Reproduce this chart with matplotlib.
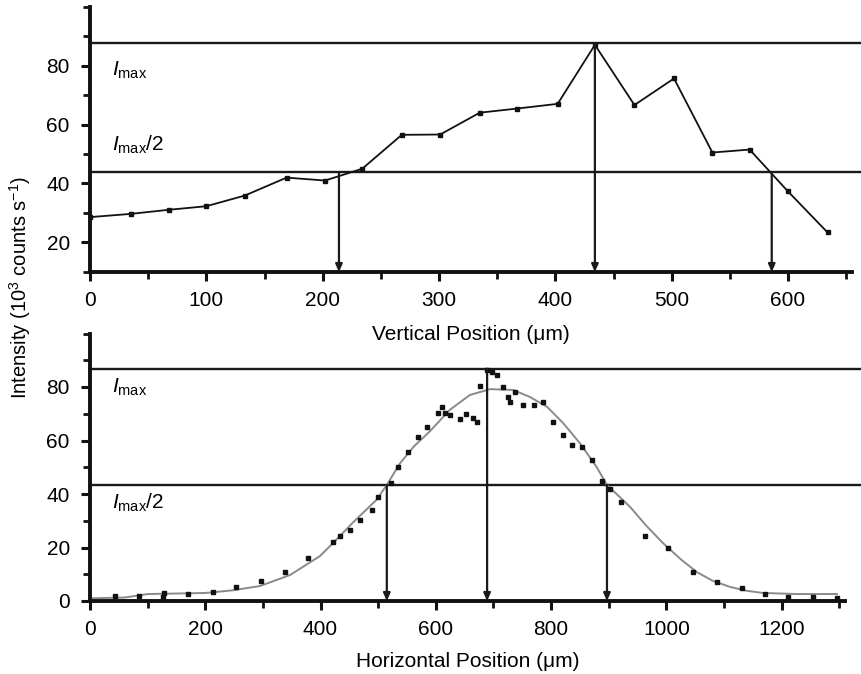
import matplotlib
matplotlib.use("Agg")
import matplotlib.pyplot as plt
from matplotlib.ticker import MultipleLocator

plt.rcParams['font.family'] = ['Liberation Sans', 'DejaVu Sans']
plt.rcParams['mathtext.fontset'] = 'custom'
plt.rcParams['mathtext.rm'] = 'Liberation Sans'
plt.rcParams['mathtext.it'] = 'Liberation Sans:italic'
plt.rcParams['mathtext.bf'] = 'Liberation Sans:bold'

# ---- top panel: vertical scan ----
vert_x = [0, 35, 68, 100, 133, 169, 202, 234, 268, 301, 335, 367, 402, 434, 468, 502, 535, 567, 600, 634]
vert_y = [28.6, 29.7, 31.1, 32.3, 35.9, 42.0, 41.0, 45.0, 56.5, 56.6, 64.0, 65.4, 67.0, 87.0, 66.6, 75.6, 50.5, 51.5, 37.3, 23.4]
vert_imax = 87.5
vert_arrows = [214, 434, 586]

# ---- bottom panel: horizontal scan ----
hor_x = [43, 85, 127, 128, 170, 213, 253, 297, 338, 378, 421, 434, 451, 468, 489, 500, 523, 535,
         552, 569, 584, 604, 610, 616, 624, 642, 653, 665, 671, 676, 688, 697, 706, 717, 725, 728,
         737, 752, 770, 786, 803, 821, 836, 853, 871, 888, 902, 922, 963, 1003, 1046, 1088, 1131,
         1171, 1211, 1254, 1296]
hor_y = [1.9, 1.9, 1.5, 3.0, 2.6, 3.4, 5.2, 7.5, 10.8, 16.0, 22.0, 24.3, 26.5, 30.3, 34.0, 39.0, 44.0, 50.0,
         55.7, 61.3, 65.0, 70.2, 72.6, 70.2, 69.5, 68.0, 70.0, 68.3, 67.0, 80.3, 86.3, 85.6, 84.5, 80.0, 76.3, 74.4,
         78.0, 73.3, 73.3, 74.4, 67.0, 62.0, 58.3, 57.6, 52.7, 45.0, 42.0, 37.0, 24.3, 19.8, 10.8, 7.1, 4.9,
         2.6, 1.5, 1.5, 1.1]
fit_x = [0, 60, 100, 150, 200, 248, 295, 347, 399, 422, 457, 497, 515, 538, 562, 590, 624, 659, 694, 734,
         763, 793, 821, 850, 879, 897, 937, 965, 994, 1025, 1053, 1080, 1110, 1140, 1168, 1226, 1296]
fit_y = [1.0, 1.3, 2.6, 2.8, 3.0, 4.0, 5.6, 9.7, 16.8, 21.7, 29.5, 37.8, 43.4, 51.5, 57.8, 63.5, 71.4, 77.0, 79.2, 78.9,
         76.3, 72.6, 66.5, 59.0, 50.1, 43.4, 35.2, 28.2, 21.7, 15.6, 10.8, 7.6, 5.3, 3.8, 3.0, 2.6, 2.6]
hor_imax = 86.8
hor_arrows = [515, 689, 897]

W, H = 862, 674
fig = plt.figure(figsize=(W / 100, H / 100), dpi=100)

def px_axes(l, r, top, bot):
    return fig.add_axes([l / W, 1 - bot / H, (r - l) / W, (bot - top) / H])

ax1 = px_axes(90, 852, 6.5, 272)
ax2 = px_axes(90, 845, 333.5, 601)
ax2.patch.set_visible(False)

FS = 15
LINE = '#1a1a1a'

def style(ax):
    for s in ['top', 'right']:
        ax.spines[s].set_visible(False)
    for s in ['left', 'bottom']:
        ax.spines[s].set_linewidth(2.8)
        ax.spines[s].set_color('#111111')
    ax.tick_params(which='major', length=6.5, width=2.2, color='#111111', labelsize=FS)
    ax.tick_params(which='minor', length=5, width=2.0, color='#111111')
    ax.tick_params(axis='x', which='major', pad=7.5)
    ax.tick_params(axis='y', which='major', pad=8)

def arrows(ax, xs, ytops, ybot):
    for x, yt in zip(xs, ytops):
        ax.annotate('', xy=(x, ybot), xytext=(x, yt),
                    arrowprops=dict(arrowstyle='-|>,head_length=0.45,head_width=0.2',
                                    color=LINE, lw=1.6, shrinkA=0, shrinkB=0))

# top panel
style(ax1)
ax1.set_xlim(0, 655)
ax1.set_ylim(10, 100)
ax1.xaxis.set_major_locator(MultipleLocator(100))
ax1.xaxis.set_minor_locator(MultipleLocator(50))
ax1.set_yticks([20, 40, 60, 80])
ax1.yaxis.set_minor_locator(MultipleLocator(10))
ax1.plot([0, 664], [vert_imax, vert_imax], color=LINE, lw=1.7, clip_on=False)
ax1.plot([0, 664], [vert_imax / 2, vert_imax / 2], color=LINE, lw=1.7, clip_on=False)
ax1.plot(vert_x, vert_y, color='#111111', lw=1.3, marker='s', ms=3, zorder=3)
arrows(ax1, vert_arrows, [vert_imax / 2, vert_imax, vert_imax / 2], 10)
ax1.text(19, 82.0, r'$I_{\mathrm{max}}$', fontsize=FS, va='top', ha='left')
ax1.text(19, 56.8, r'$I_{\mathrm{max}}$/2', fontsize=FS, va='top', ha='left')
ax1.set_xlabel('Vertical Position (μm)', fontsize=FS)
ax1.xaxis.set_label_coords(0.5, -0.2)

# bottom panel
style(ax2)
ax2.set_xlim(0, 1310)
ax2.set_ylim(0, 100)
ax2.xaxis.set_major_locator(MultipleLocator(200))
ax2.xaxis.set_minor_locator(MultipleLocator(100))
ax2.set_yticks([0, 20, 40, 60, 80])
ax2.yaxis.set_minor_locator(MultipleLocator(10))
ax2.plot([0, 1336], [hor_imax, hor_imax], color=LINE, lw=1.7, clip_on=False)
ax2.plot([0, 1336], [hor_imax / 2, hor_imax / 2], color=LINE, lw=1.7, clip_on=False)
ax2.plot(fit_x, fit_y, color='#8a8a8a', lw=1.4, zorder=2)
ax2.plot(hor_x, hor_y, ls='none', marker='s', ms=3, color='#111111', zorder=3)
arrows(ax2, hor_arrows, [hor_imax / 2, hor_imax, hor_imax / 2], 0)
ax2.text(38, 83.8, r'$I_{\mathrm{max}}$', fontsize=FS, va='top', ha='left')
ax2.text(38, 40.8, r'$I_{\mathrm{max}}$/2', fontsize=FS, va='top', ha='left')
ax2.set_xlabel('Horizontal Position (μm)', fontsize=FS)
ax2.xaxis.set_label_coords(0.5, -0.19)

fig.text(20 / W, 1 - 288 / H, r'Intensity (10$^3$ counts s$^{-1}$)', rotation=90,
         ha='center', va='center', fontsize=14.5)

fig.savefig('out.png', dpi=100)
